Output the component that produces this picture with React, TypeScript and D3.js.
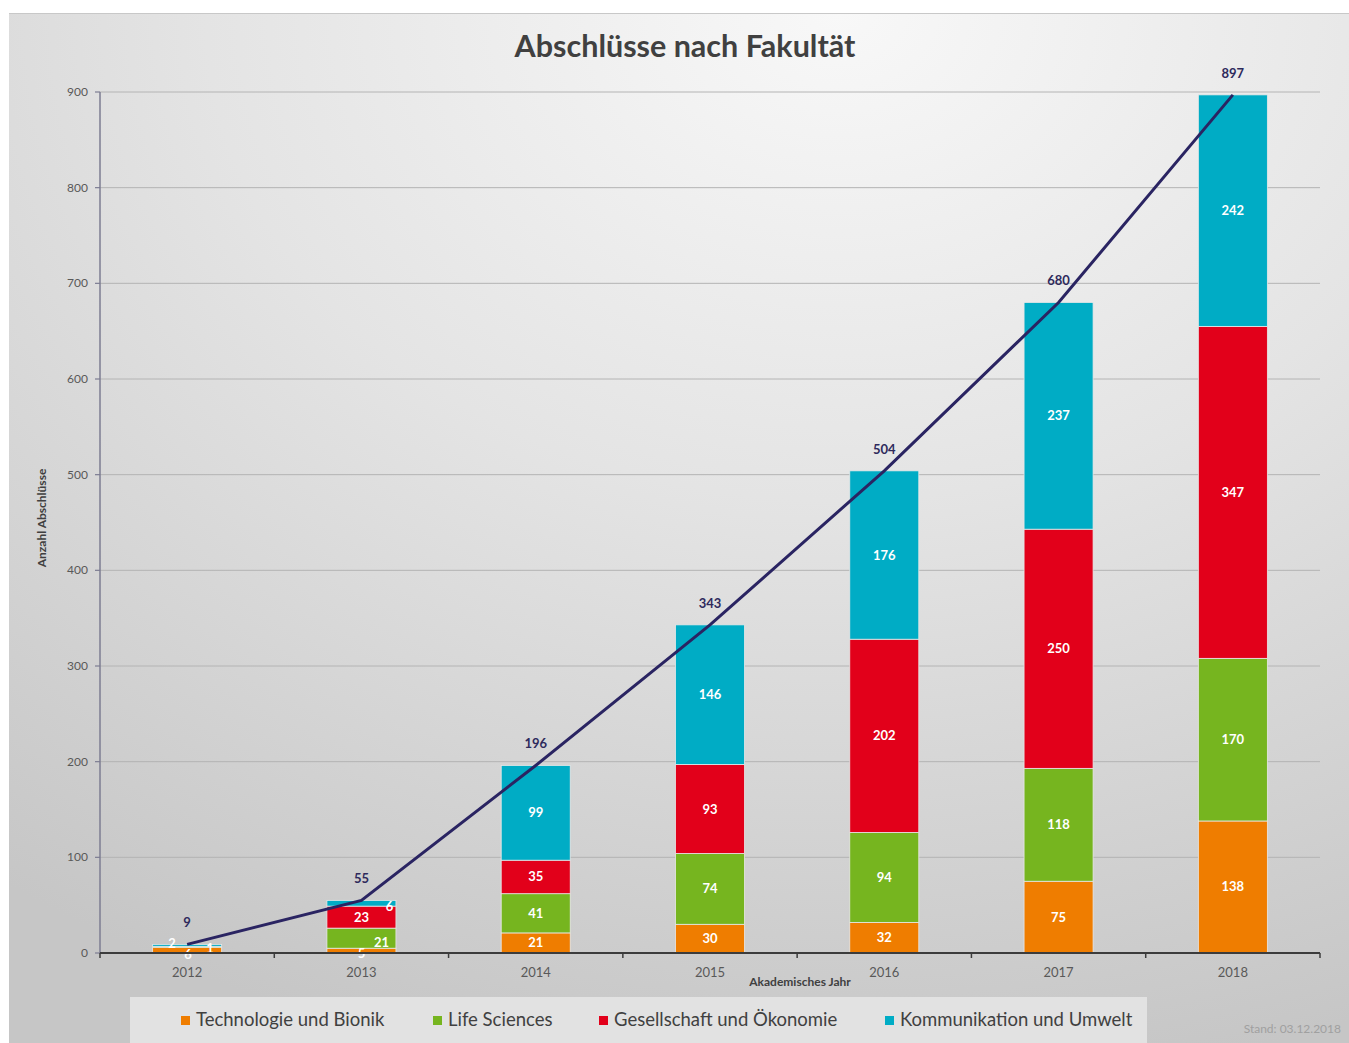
import React from "react";
import * as d3 from "d3";

const years = ["2012", "2013", "2014", "2015", "2016", "2017", "2018"];
const seriesNames = [
  "Technologie und Bionik",
  "Life Sciences",
  "Gesellschaft und Ökonomie",
  "Kommunikation und Umwelt",
];
const technologie = [6, 5, 21, 30, 32, 75, 138];
const lifeSciences = [1, 21, 41, 74, 94, 118, 170];
const gesellschaft = [0, 23, 35, 93, 202, 250, 347];
const kommunikation = [2, 6, 99, 146, 176, 237, 242];
const totals = [9, 55, 196, 343, 504, 680, 897];
const yTicks = [0, 100, 200, 300, 400, 500, 600, 700, 800, 900];
const colors = ["#ef7d00", "#76b51f", "#e2001a", "#00acc5"];

// label offsets (dx, dy) for small segments, as in the original
const labelOffsets: Record<string, [number, number]> = {
  "2012-0": [1, 4],
  "2012-1": [23, 2],
  "2012-3": [-15, -2],
  "2013-0": [0, 3],
  "2013-1": [20, 4],
  "2013-3": [28, 3],
};

const FONT = "Lato, 'Open Sans', sans-serif";

export default function App() {
  const W = 1349;
  const H = 1043;
  const left = 100;
  const right = 1320;
  const top = 92;
  const bottom = 953;

  const x = d3.scaleBand<string>().domain(years).range([left, right]).paddingInner(0.604).paddingOuter(0.302);
  const y = d3.scaleLinear().domain([0, 900]).range([bottom, top]);
  const step = x.step();
  const bw = x.bandwidth();

  const data = years.map((yr, i) => ({
    year: yr,
    v0: technologie[i],
    v1: lifeSciences[i],
    v2: gesellschaft[i],
    v3: kommunikation[i],
  }));
  const stack = d3.stack<any>().keys(["v0", "v1", "v2", "v3"])(data);

  const line = d3
    .line<number>()
    .x((_, i) => (x(years[i]) as number) + bw / 2)
    .y((d) => y(d));

  const legendX = [181, 433, 599, 885];

  return (
    <svg width={W} height={H} style={{ position: "absolute", left: 0, top: 0 }} fontFamily={FONT}>
      <defs>
        <radialGradient id="bg" cx="0.62" cy="0" r="1.05" fx="0.62" fy="0">
          <stop offset="0" stopColor="#f8f8f8" />
          <stop offset="0.45" stopColor="#e4e4e4" />
          <stop offset="1" stopColor="#c6c6c6" />
        </radialGradient>
      </defs>
      <rect x={0} y={0} width={W} height={H} fill="#ffffff" />
      <rect x={9} y={13} width={W - 9} height={H - 13} fill="url(#bg)" />
      <line x1={9} x2={W} y1={13.5} y2={13.5} stroke="#c8c8c8" strokeWidth={1} />

      <text x={685} y={57} textAnchor="middle" fontSize={30.5} fontWeight="bold" fill="#404040">
        Abschlüsse nach Fakultät
      </text>

      {/* gridlines */}
      {yTicks.map((t) => (
        <line key={"g" + t} x1={left} x2={right} y1={y(t)} y2={y(t)} stroke="#b4b4b4" strokeWidth={1} />
      ))}
      {/* y axis */}
      <line x1={left} x2={left} y1={top} y2={bottom} stroke="#7c7c92" strokeWidth={1.5} />
      {yTicks.map((t) => (
        <g key={"yt" + t}>
          <line x1={left - 5} x2={left} y1={y(t)} y2={y(t)} stroke="#7c7c92" strokeWidth={1.2} />
          <text x={88} y={y(t) + 4} textAnchor="end" fontSize={12} fill="#595959">
            {t}
          </text>
        </g>
      ))}
      <text
        transform={`translate(46,${518}) rotate(-90)`}
        textAnchor="middle"
        fontSize={12}
        fontWeight="bold"
        fill="#404040"
      >
        Anzahl Abschlüsse
      </text>

      {/* bars */}
      {stack.map((s, si) => (
        <g key={"s" + si}>
          {s.map((d: any, i: number) => {
            const v = d[1] - d[0];
            if (v <= 0) return null;
            return (
              <rect
                key={i}
                x={x(years[i])}
                y={y(d[1])}
                width={bw}
                height={y(d[0]) - y(d[1])}
                fill={colors[si]}
                stroke="#e8e8e8"
                strokeWidth={0.8}
              />
            );
          })}
        </g>
      ))}
      {/* segment labels */}
      {stack.map((s, si) => (
        <g key={"l" + si}>
          {s.map((d: any, i: number) => {
            const v = d[1] - d[0];
            if (v <= 0) return null;
            const off = labelOffsets[years[i] + "-" + si] || [0, 0];
            const cx = (x(years[i]) as number) + bw / 2 + off[0];
            const cy = (y(d[0]) + y(d[1])) / 2 + off[1];
            return (
              <text key={i} x={cx} y={cy + 4.5} textAnchor="middle" fontSize={13} fontWeight="bold" fill="#ffffff">
                {v}
              </text>
            );
          })}
        </g>
      ))}

      {/* total line */}
      <path d={line(totals) || ""} fill="none" stroke="#2a2462" strokeWidth={3} />
      {totals.map((t, i) => (
        <text
          key={"t" + i}
          x={(x(years[i]) as number) + bw / 2}
          y={y(t) - 17}
          textAnchor="middle"
          fontSize={13}
          fontWeight="bold"
          fill="#2e2a5c"
        >
          {t}
        </text>
      ))}

      {/* x axis */}
      <line x1={left} x2={right} y1={bottom} y2={bottom} stroke="#3c3c3c" strokeWidth={2} />
      {d3.range(years.length + 1).map((k) => (
        <line key={"xt" + k} x1={left + k * step} x2={left + k * step} y1={bottom} y2={bottom + 5} stroke="#3c3c3c" strokeWidth={1.5} />
      ))}
      {years.map((yr) => (
        <text key={"xl" + yr} x={(x(yr) as number) + bw / 2} y={977} textAnchor="middle" fontSize={13} fill="#595959">
          {yr}
        </text>
      ))}
      <text x={800} y={986} textAnchor="middle" fontSize={12} fontWeight="bold" fill="#404040">
        Akademisches Jahr
      </text>

      {/* legend */}
      <rect x={130} y={997} width={1017} height={46} fill="#e2e2e2" />
      {seriesNames.map((n, i) => (
        <g key={"lg" + i}>
          <rect x={legendX[i]} y={1016} width={9} height={9} fill={colors[i]} />
          <text x={legendX[i] + 15} y={1026} fontSize={18.5} fill="#404040">
            {n}
          </text>
        </g>
      ))}
      <text x={1341} y={1033} textAnchor="end" fontSize={12} fill="#a0a0a0">
        Stand: 03.12.2018
      </text>
    </svg>
  );
}
